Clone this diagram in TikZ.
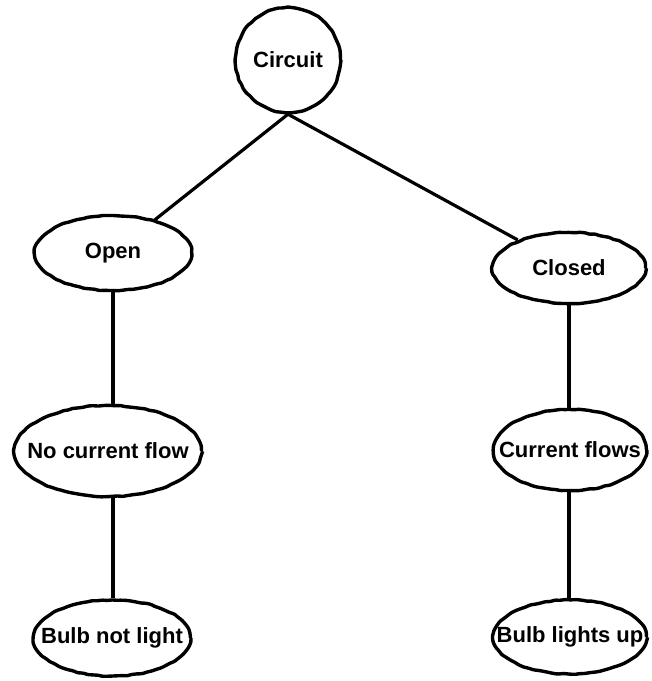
\documentclass[tikz,border=0pt]{standalone}
\usepackage{fontspec}
\setmainfont{Liberation Sans}
\usepackage{tikz}
\usetikzlibrary{shapes.geometric,positioning,decorations.pathmorphing}

\begin{document}
\begin{tikzpicture}[x=1pt, y=-1pt,
  every label/.style={font=\fontsize{22}{24}\selectfont\bfseries, inner sep=0pt},
  bubble/.style={draw, ellipse, inner sep=0pt, line width=3.4pt,
    decorate, decoration={random steps, segment length=5pt, amplitude=0.5pt}, rounded corners=1pt},
  link/.style={line width=3.2pt}]
\pgfmathsetseed{7}
\useasboundingbox (0,0) rectangle (652,681);
\node[bubble, circle, minimum size=105pt, label=center:Circuit] (circuit) at (288,60) {};
\node[bubble, minimum width=157pt, minimum height=75pt, label=center:Open]             (open)     at (113,253) {};
\node[bubble, minimum width=153pt, minimum height=71pt, label=center:Closed]           (closed)   at (569,268) {};
\node[bubble, minimum width=187pt, minimum height=91pt, label=center:No current flow]  (nocurr)   at (108,451) {};
\node[bubble, minimum width=153pt, minimum height=81pt, label=center:Current flows]    (curflows) at (570,450) {};
\node[bubble, minimum width=157pt, minimum height=76pt, label=center:Bulb not light]   (bulbnot)  at (112,638) {};
\node[bubble, minimum width=153pt, minimum height=74pt, label=center:Bulb lights up]   (bulbup)   at (570,637) {};
\draw[link] (circuit.south) -- (open);
\draw[link] (circuit.south) -- (closed);
\draw[link] (open.south) -- (open.south |- nocurr.north);
\draw[link] (closed.south) -- (closed.south |- curflows.north);
\draw[link] (open.south |- nocurr.south) -- (open.south |- bulbnot.north);
\draw[link] (closed.south |- curflows.south) -- (closed.south |- bulbup.north);
\end{tikzpicture}
\end{document}
